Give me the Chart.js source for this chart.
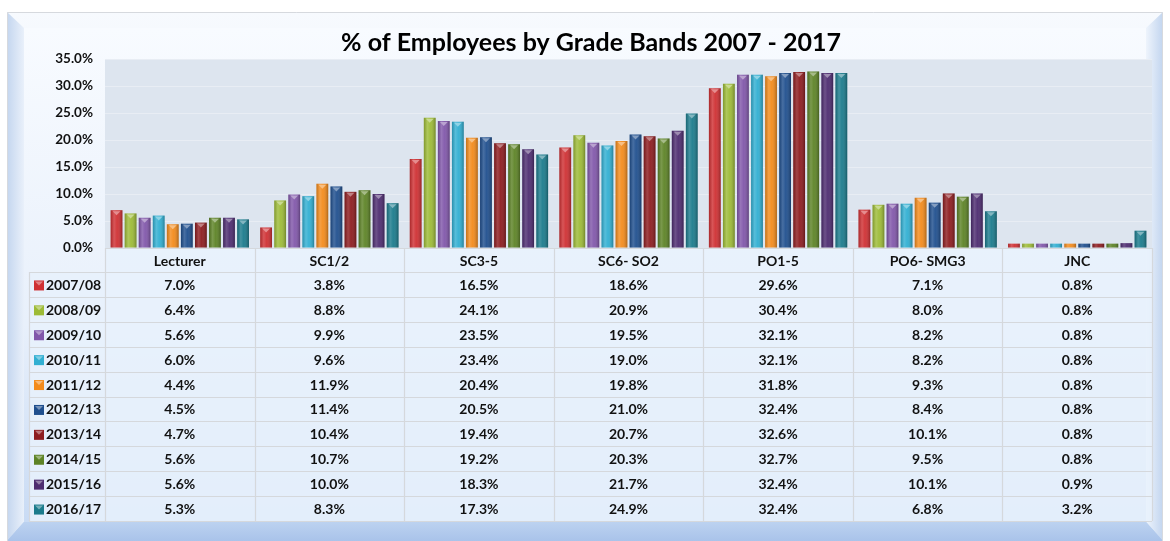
<!DOCTYPE html>
<html>
<head>
<meta charset="utf-8">
<script src="https://cdn.jsdelivr.net/npm/chart.js@4.4.1/dist/chart.umd.min.js"></script>
<style>
  html, body { margin: 0; padding: 0; background: #ffffff; }
  #wrap { width: 1170px; height: 541px; position: relative; }
</style>
</head>
<body>
<div id="wrap"><canvas id="grades"></canvas></div>
<script>
// grade bands (categories)
var bands = ["Lecturer", "SC1/2", "SC3-5", "SC6- SO2", "PO1-5", "PO6- SMG3", "JNC"];

// academic years (series)
var years = ["2007/08", "2008/09", "2009/10", "2010/11", "2011/12",
             "2012/13", "2013/14", "2014/15", "2015/16", "2016/17"];

// % of employees, one array per year, in band order
var y2007 = [7.0, 3.8, 16.5, 18.6, 29.6, 7.1, 0.8];
var y2008 = [6.4, 8.8, 24.1, 20.9, 30.4, 8.0, 0.8];
var y2009 = [5.6, 9.9, 23.5, 19.5, 32.1, 8.2, 0.8];
var y2010 = [6.0, 9.6, 23.4, 19.0, 32.1, 8.2, 0.8];
var y2011 = [4.4, 11.9, 20.4, 19.8, 31.8, 9.3, 0.8];
var y2012 = [4.5, 11.4, 20.5, 21.0, 32.4, 8.4, 0.8];
var y2013 = [4.7, 10.4, 19.4, 20.7, 32.6, 10.1, 0.8];
var y2014 = [5.6, 10.7, 19.2, 20.3, 32.7, 9.5, 0.8];
var y2015 = [5.6, 10.0, 18.3, 21.7, 32.4, 10.1, 0.9];
var y2016 = [5.3, 8.3, 17.3, 24.9, 32.4, 6.8, 3.2];

var values = [y2007, y2008, y2009, y2010, y2011, y2012, y2013, y2014, y2015, y2016];

// y axis ticks
var yMax = 35;
var yStep = 5;

var colors = ["#cf3033", "#9dbb37", "#8157aa", "#31afd2", "#f38b1c",
              "#1f4f8e", "#8d1c1f", "#5d8326", "#4d2c70", "#1b7b8c"];

var FONT = "Lato, 'Open Sans', sans-serif";

function shade(hex, amt) {
  var n = parseInt(hex.slice(1), 16);
  var r = (n >> 16) & 255, g = (n >> 8) & 255, b = n & 255;
  function f(c) {
    c = amt < 0 ? c * (1 + amt) : c + (255 - c) * amt;
    return Math.round(Math.max(0, Math.min(255, c)));
  }
  return "rgb(" + f(r) + "," + f(g) + "," + f(b) + ")";
}

// background frame + plot fill
var framePlugin = {
  id: "frame",
  beforeDraw: function(chart) {
    var ctx = chart.ctx, W = chart.width, H = chart.height;
    ctx.save();
    ctx.fillStyle = "#ffffff";
    ctx.fillRect(0, 0, W, H);

    // outer bevel
    var g = ctx.createLinearGradient(0, 12, 0, H);
    g.addColorStop(0, "#f7fafe");
    g.addColorStop(0.5, "#e3ecf8");
    g.addColorStop(1, "#aec8ec");
    ctx.fillStyle = g;
    ctx.fillRect(7, 12, 1156, H - 12);

    // left / right bevel strips
    var gl = ctx.createLinearGradient(7, 0, 24, 0);
    gl.addColorStop(0, "#c4d6ef");
    gl.addColorStop(1, "#e9f0fa");
    ctx.fillStyle = gl;
    ctx.beginPath();
    ctx.moveTo(7, 12); ctx.lineTo(24, 28); ctx.lineTo(24, 522); ctx.lineTo(7, H);
    ctx.closePath(); ctx.fill();
    var gr = ctx.createLinearGradient(1146, 0, 1163, 0);
    gr.addColorStop(0, "#eef4fc");
    gr.addColorStop(1, "#c2d5ef");
    ctx.fillStyle = gr;
    ctx.beginPath();
    ctx.moveTo(1163, 12); ctx.lineTo(1146, 28); ctx.lineTo(1146, 522); ctx.lineTo(1163, H);
    ctx.closePath(); ctx.fill();

    // inner face
    var gi = ctx.createLinearGradient(0, 28, 0, 522);
    gi.addColorStop(0, "#f8fbff");
    gi.addColorStop(0.6, "#e8f0fb");
    gi.addColorStop(1, "#c9dbf4");
    ctx.fillStyle = gi;
    ctx.fillRect(24, 28, 1122, 494);

    // bottom bevel
    var gb = ctx.createLinearGradient(0, 522, 0, H);
    gb.addColorStop(0, "#bcd2f0");
    gb.addColorStop(1, "#a9c3ea");
    ctx.fillStyle = gb;
    ctx.beginPath();
    ctx.moveTo(24, 522); ctx.lineTo(1146, 522); ctx.lineTo(1163, H); ctx.lineTo(7, H);
    ctx.closePath(); ctx.fill();

    ctx.strokeStyle = "#d6d9de";
    ctx.lineWidth = 1;
    ctx.beginPath();
    ctx.moveTo(7.5, H); ctx.lineTo(7.5, 12.5); ctx.lineTo(1162.5, 12.5); ctx.lineTo(1162.5, H);
    ctx.stroke();

    // plot area
    var a = chart.chartArea;
    ctx.fillStyle = "#dde5ef";
    ctx.fillRect(a.left, a.top, a.right - a.left, a.bottom - a.top);
    ctx.restore();
  }
};

// shading on the bars for a rounded look
var barShadePlugin = {
  id: "barShade",
  afterDatasetsDraw: function(chart) {
    var ctx = chart.ctx;
    ctx.save();
    chart.data.datasets.forEach(function(ds, di) {
      var meta = chart.getDatasetMeta(di);
      meta.data.forEach(function(bar) {
        var x0 = bar.x - bar.width / 2, x1 = bar.x + bar.width / 2;
        var top = Math.min(bar.y, bar.base), bot = Math.max(bar.y, bar.base);
        var g = ctx.createLinearGradient(x0, 0, x1, 0);
        g.addColorStop(0, "rgba(0,0,0,0.18)");
        g.addColorStop(0.3, "rgba(255,255,255,0.18)");
        g.addColorStop(0.55, "rgba(255,255,255,0.05)");
        g.addColorStop(1, "rgba(0,0,0,0.28)");
        ctx.fillStyle = g;
        ctx.fillRect(x0, top, x1 - x0, bot - top);
        // small bevel triangle on top
        if (bot - top > 5) {
          ctx.fillStyle = shade(colors[di], 0.45);
          ctx.beginPath();
          ctx.moveTo(x0 + 2, top + 1);
          ctx.lineTo(x1 - 2, top + 1);
          ctx.lineTo(bar.x, top + 5);
          ctx.closePath();
          ctx.fill();
        }
      });
    });
    ctx.restore();
  }
};

// data table under the plot
var tablePlugin = {
  id: "dataTable",
  afterDraw: function(chart) {
    var ctx = chart.ctx, a = chart.chartArea, xs = chart.scales.x;
    var n = bands.length;
    var cw = (a.right - a.left) / n;
    var headTop = a.bottom, headH = 24, rowH = 24.9;
    var rowsTop = headTop + headH;
    var legL = 29;
    var tableBot = rowsTop + rowH * years.length;

    ctx.save();
    // cell background
    ctx.fillStyle = "rgba(232,241,252,0.85)";
    ctx.fillRect(a.left, headTop, a.right - a.left, headH);
    ctx.fillRect(legL, rowsTop, a.right - legL, tableBot - rowsTop);

    ctx.strokeStyle = "#d5d8dc";
    ctx.lineWidth = 1.2;
    ctx.beginPath();
    // horizontal lines
    ctx.moveTo(a.left, headTop + 0.5); ctx.lineTo(a.right, headTop + 0.5);
    for (var r = 0; r <= years.length; r++) {
      var yy = Math.round(rowsTop + r * rowH) + 0.5;
      ctx.moveTo(legL, yy); ctx.lineTo(a.right, yy);
    }
    // vertical lines
    ctx.moveTo(legL + 0.5, rowsTop); ctx.lineTo(legL + 0.5, tableBot);
    for (var c = 0; c <= n; c++) {
      var xx = Math.round(a.left + c * cw) + 0.5;
      ctx.moveTo(xx, headTop); ctx.lineTo(xx, tableBot);
    }
    ctx.stroke();

    ctx.fillStyle = "#111111";
    ctx.font = "bold 14px " + FONT;
    ctx.textAlign = "center";
    ctx.textBaseline = "middle";
    bands.forEach(function(b, i) {
      ctx.fillText(b, xs.getPixelForValue(i), headTop + headH / 2 + 1);
    });
    years.forEach(function(yr, r) {
      var cy = rowsTop + r * rowH + rowH / 2 + 1;
      // legend key
      ctx.fillStyle = colors[r];
      ctx.fillRect(34, cy - 5, 10, 10);
      ctx.fillStyle = shade(colors[r], 0.4);
      ctx.beginPath();
      ctx.moveTo(35, cy - 4); ctx.lineTo(43, cy - 4); ctx.lineTo(39, cy);
      ctx.closePath(); ctx.fill();
      ctx.fillStyle = "#111111";
      ctx.textAlign = "left";
      ctx.fillText(yr, 46, cy);
      ctx.textAlign = "center";
      values[r].forEach(function(v, i) {
        ctx.fillText(v.toFixed(1) + "%", xs.getPixelForValue(i), cy);
      });
    });
    ctx.restore();
  }
};

function runGradeChart() {
  var datasets = years.map(function(yr, i) {
    return {
      label: yr,
      data: values[i],
      backgroundColor: colors[i],
      borderWidth: 0,
      categoryPercentage: 0.94,
      barPercentage: 0.84
    };
  });

  new Chart(document.getElementById("grades"), {
    type: "bar",
    data: { labels: bands, datasets: datasets },
    plugins: [framePlugin, barShadePlugin, tablePlugin],
    options: {
      responsive: true,
      maintainAspectRatio: false,
      animation: false,
      layout: { padding: { left: 30, right: 18, top: 0, bottom: 293 } },
      plugins: {
        legend: { display: false },
        tooltip: { enabled: false },
        title: {
          display: true,
          text: "% of Employees by Grade Bands 2007 - 2017",
          color: "#000000",
          font: { family: FONT, size: 25, weight: "bold" },
          padding: { top: 28, bottom: 1 }
        }
      },
      scales: {
        x: {
          display: false,
          grid: { display: false }
        },
        y: {
          min: 0,
          max: yMax,
          afterFit: function(scale) { scale.width = 75; },
          border: { display: false },
          grid: { color: "#e8edf4", lineWidth: 1, drawTicks: false },
          ticks: {
            stepSize: yStep,
            padding: 12,
            color: "#111111",
            font: { family: FONT, size: 13.5, weight: "bold" },
            callback: function(v) { return v.toFixed(1) + "%"; }
          }
        }
      }
    }
  });
}

runGradeChart();
</script>
</body>
</html>
